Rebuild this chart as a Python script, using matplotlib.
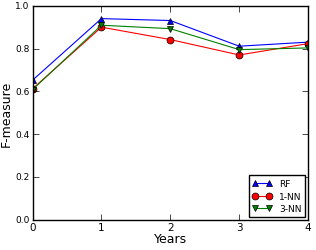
import matplotlib
matplotlib.use("Agg")
import matplotlib.pyplot as plt

years = [0, 1, 2, 3, 4]
rf = [0.652, 0.940, 0.931, 0.811, 0.830]
nn1 = [0.612, 0.900, 0.842, 0.770, 0.823]
nn3 = [0.608, 0.909, 0.893, 0.795, 0.803]

plt.style.use('classic')
fig = plt.figure(figsize=(3.16, 2.51), dpi=100)
ax = fig.add_axes([0.103, 0.121, 0.872, 0.852])
ax.plot(years, rf, 'b^-', label='RF', markersize=5, linewidth=0.8)
ax.plot(years, nn1, 'ro-', label='1-NN', markersize=5, linewidth=0.8)
ax.plot(years, nn3, 'gv-', label='3-NN', markersize=5, linewidth=0.8)
ax.set_xlim(0, 4)
ax.set_ylim(0, 1.0)
ax.set_xticks(years)
ax.set_yticks([0.0, 0.2, 0.4, 0.6, 0.8, 1.0])
ax.tick_params(axis='y', labelsize=6.5, pad=2)
ax.tick_params(axis='x', labelsize=7.5, pad=2)
ax.set_xlabel('Years', fontsize=9, labelpad=0)
ax.set_ylabel('F-measure', fontsize=9)
ax.yaxis.set_label_coords(-0.073, 0.5)
ax.legend(loc='lower right', fontsize=6.5, numpoints=2, handlelength=2.2,
          borderpad=0.4, labelspacing=0.4, borderaxespad=0.3)
fig.savefig('out.png', dpi=100)
